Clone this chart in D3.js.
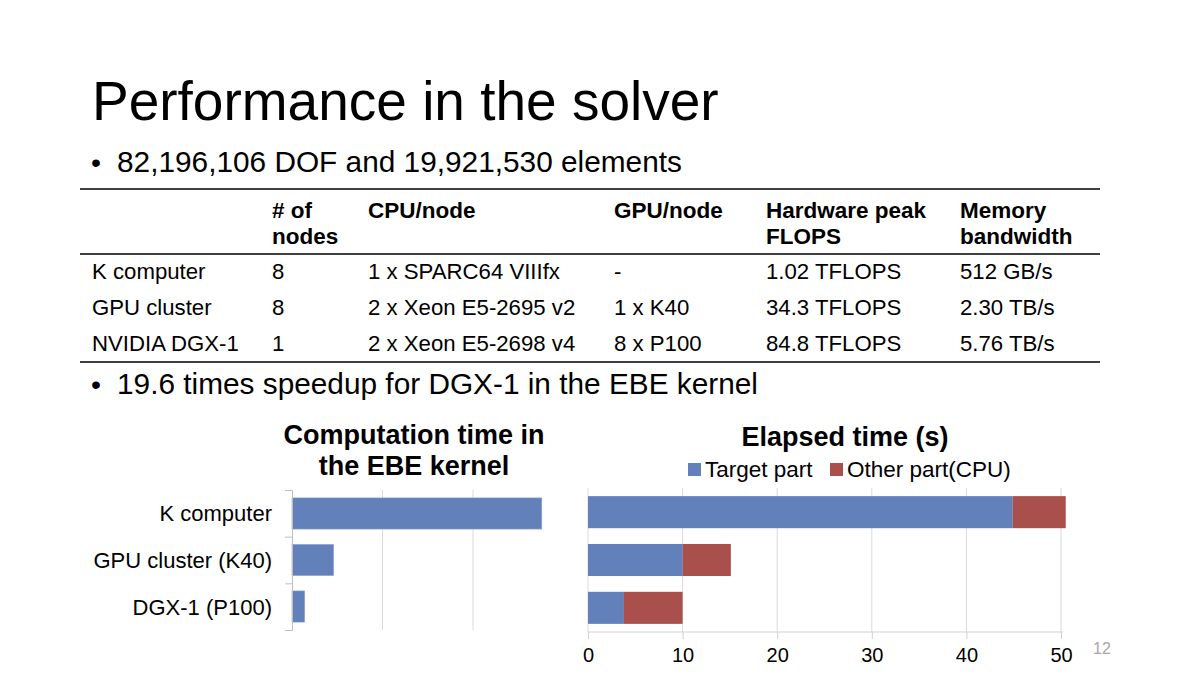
<!DOCTYPE html>
<html>
<head>
<meta charset="utf-8">
<script src="https://cdn.jsdelivr.net/npm/d3@7"></script>
<style>
  body { margin: 0; background: #fff; }
  svg { font-family: "Liberation Sans", Arial, sans-serif; display: block; }
</style>
</head>
<body>
<svg></svg>
<script>
const size = { w: 1200, h: 675 };
const svg = d3.select("svg").attr("width", size.w).attr("height", size.h);

// ---- data ----
const tableHeader = [["", ""], ["# of", "nodes"], ["CPU/node", ""], ["GPU/node", ""], ["Hardware peak", "FLOPS"], ["Memory", "bandwidth"]];
const tableRows = [
  ["K computer", "8", "1 x SPARC64 VIIIfx", "-", "1.02 TFLOPS", "512 GB/s"],
  ["GPU cluster", "8", "2 x Xeon E5-2695 v2", "1 x K40", "34.3 TFLOPS", "2.30 TB/s"],
  ["NVIDIA DGX-1", "1", "2 x Xeon E5-2698 v4", "8 x P100", "84.8 TFLOPS", "5.76 TB/s"]
];
const systems = ["K computer", "GPU cluster (K40)", "DGX-1 (P100)"];
const ebeTime = [2.76, 0.46, 0.14];
const targetPart = [44.9, 10, 3.8];
const otherPart = [5.6, 5.1, 6.2];
const elapsedTicks = [0, 10, 20, 30, 40, 50];
const seriesNames = ["Target part", "Other part(CPU)"];
const colors = ["#6281bb", "#a94f4c"];

// ---- slide text ----
svg.append("text").attr("x", 92).attr("y", 120)
  .attr("font-size", 55).attr("fill", "#000").text("Performance in the solver");

function bullet(y, txt) {
  svg.append("text").attr("x", 91).attr("y", y).attr("font-size", 28.5).text("\u2022");
  svg.append("text").attr("x", 117).attr("y", y).attr("font-size", 29.8).attr("fill", "#000").text(txt);
}
bullet(172, "82,196,106 DOF and 19,921,530 elements");
bullet(394, "19.6 times speedup for DGX-1 in the EBE kernel");

// ---- table ----
const colX = [92, 272, 368, 614, 766, 960];
const tableG = svg.append("g");
tableG.selectAll("line.rule")
  .data([189, 254, 362])
  .join("line").attr("x1", 80).attr("x2", 1100)
  .attr("y1", d => d).attr("y2", d => d)
  .attr("stroke", "#000").attr("stroke-width", 1.5);

tableHeader.forEach((h, i) => {
  h.forEach((line, j) => {
    tableG.append("text").attr("x", colX[i]).attr("y", 218 + j * 26)
      .attr("font-size", 22.5).attr("font-weight", "bold").text(line);
  });
});
tableRows.forEach((row, r) => {
  row.forEach((cell, i) => {
    tableG.append("text").attr("x", colX[i]).attr("y", 279 + r * 36)
      .attr("font-size", 22.2).text(cell);
  });
});

// ---- left chart: computation time in EBE kernel ----
const leftX = d3.scaleLinear().domain([0, 1]).range([292, 382.5]);
const leftY = d3.scaleBand().domain(systems).range([490, 630]).paddingInner(0.33).paddingOuter(0.17);
const leftG = svg.append("g");

leftG.selectAll("line.grid").data([1, 2]).join("line")
  .attr("x1", d => leftX(d)).attr("x2", d => leftX(d))
  .attr("y1", 490).attr("y2", 630).attr("stroke", "#d9d9d9");

leftG.selectAll("rect").data(systems).join("rect")
  .attr("x", leftX(0)).attr("y", d => leftY(d))
  .attr("width", (d, i) => leftX(ebeTime[i]) - leftX(0))
  .attr("height", leftY.bandwidth())
  .attr("fill", colors[0]).attr("stroke", "#8ea4cf").attr("stroke-width", 0.6);

const leftAxis = d3.axisLeft(d3.scaleLinear().domain([0, 3]).range([490, 630]))
  .tickValues([0, 1, 2, 3]).tickSize(7).tickFormat("");
leftG.append("g").attr("transform", "translate(292,0)").call(leftAxis)
  .call(g => g.selectAll("path,line").attr("stroke", "#bfbfbf"));

leftG.selectAll("text.cat").data(systems).join("text")
  .attr("x", 272).attr("y", d => leftY(d) + leftY.bandwidth() / 2 + 8)
  .attr("text-anchor", "end").attr("font-size", 22).text(d => d);

leftG.selectAll("text.title").data(["Computation time in", "the EBE kernel"]).join("text")
  .attr("x", 414).attr("y", (d, i) => 444 + i * 31)
  .attr("text-anchor", "middle").attr("font-size", 27).attr("font-weight", "bold").text(d => d);

// ---- right chart: elapsed time ----
const rightX = d3.scaleLinear().domain([0, 50]).range([588, 1061]);
const rightY = d3.scaleBand().domain(systems).range([488, 632]).paddingInner(0.33).paddingOuter(0.17);
const rightG = svg.append("g");

rightG.selectAll("line.grid").data(elapsedTicks).join("line")
  .attr("x1", d => rightX(d)).attr("x2", d => rightX(d))
  .attr("y1", 488).attr("y2", 632).attr("stroke", "#d9d9d9");

const stacked = d3.stack().keys([0, 1])(systems.map((s, i) => ({ s, 0: targetPart[i], 1: otherPart[i] })));
rightG.selectAll("g.series").data(stacked).join("g")
  .attr("fill", (d, i) => colors[i])
  .selectAll("rect").data(d => d).join("rect")
  .attr("x", d => rightX(d[0])).attr("y", d => rightY(d.data.s))
  .attr("width", d => rightX(d[1]) - rightX(d[0]))
  .attr("height", rightY.bandwidth());

const rightAxis = d3.axisBottom(rightX).tickValues(elapsedTicks).tickSize(7).tickSizeOuter(0).tickPadding(9);
rightG.append("g").attr("transform", "translate(0,632)").call(rightAxis)
  .call(g => g.select(".domain").attr("d", "M588,0H1063"))
  .call(g => g.selectAll("path,line").attr("stroke", "#d0d0d0"))
  .call(g => g.selectAll("text").attr("font-size", 20).attr("fill", "#000")
    .attr("font-family", "Liberation Sans, Arial, sans-serif"));

rightG.append("text").attr("x", 845).attr("y", 446).attr("text-anchor", "middle")
  .attr("font-size", 27).attr("font-weight", "bold").text("Elapsed time (s)");

const legendX = [688, 830];
const legend = rightG.selectAll("g.legend").data(seriesNames).join("g")
  .attr("transform", (d, i) => `translate(${legendX[i]},463)`);
legend.append("rect").attr("width", 13).attr("height", 13).attr("fill", (d, i) => colors[i]);
legend.append("text").attr("x", 17).attr("y", 14).attr("font-size", 22.5).text(d => d);

// ---- page number ----
svg.append("text").attr("x", 1093).attr("y", 654).attr("font-size", 16)
  .attr("fill", "#a6a6a6").text("12");
</script>
</body>
</html>
